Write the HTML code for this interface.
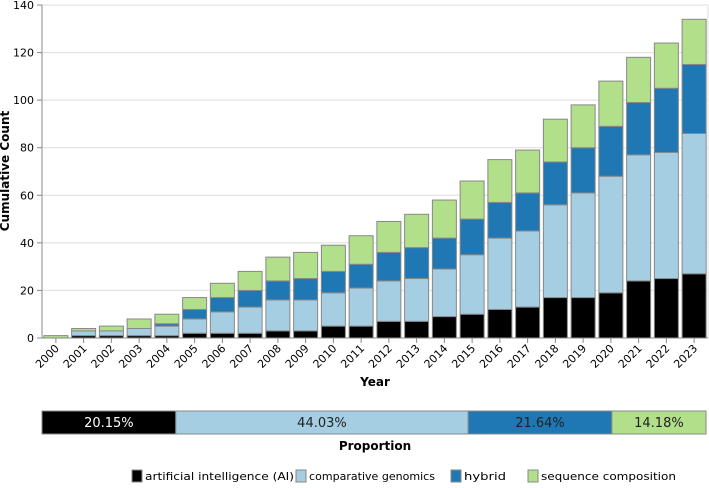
<!DOCTYPE html>
<html><head><meta charset="utf-8"><style>
body{margin:0;background:#fff;font-family:"DejaVu Sans","Liberation Sans",sans-serif;}
svg text{font-family:"DejaVu Sans","Liberation Sans",sans-serif;}
</style></head><body>
<svg id="c" width="709" height="484" xmlns="http://www.w3.org/2000/svg"></svg>
<script>
const years=["2000","2001","2002","2003","2004","2005","2006","2007","2008","2009","2010","2011","2012","2013","2014","2015","2016","2017","2018","2019","2020","2021","2022","2023"];
const aiVals=[0,1,1,1,1,2,2,2,3,3,5,5,7,7,9,10,12,13,17,17,19,24,25,27];
const compVals=[0,2,2,3,4,6,9,11,13,13,14,16,17,18,20,25,30,32,39,44,49,53,53,59];
const hybridVals=[0,0,0,0,1,4,6,7,8,9,9,10,12,13,13,15,15,16,18,19,21,22,27,29];
const seqVals=[1,1,2,4,4,5,6,8,10,11,11,12,13,14,16,16,18,18,18,18,19,19,19,19];
const yTicks=[0,20,40,60,80,100,120,140];
const propLabels=["20.15%","44.03%","21.64%","14.18%"];
const propVals=[20.15,44.03,21.64,14.18];
const seriesNames=["artificial intelligence (AI)","comparative genomics","hybrid","sequence composition"];
const colors=["#000000","#a6cee3","#1f78b4","#b2df8a"];
const svg=document.getElementById('c');
const NS="http://www.w3.org/2000/svg";
function mk(t,a,p){const e=document.createElementNS(NS,t);for(const k in a)e.setAttribute(k,a[k]);(p||svg).appendChild(e);return e;}
const x0=42,x1=708,y0=338,y1=5,yMax=140;
const step=(x1-x0)/years.length;
const xs=i=>x0+step*i+step/2;
const ys=v=>y0-(y0-y1)*v/yMax;
yTicks.forEach(t=>{
 const g=mk('line',{x1:x0,x2:x1,y1:ys(t),y2:ys(t),stroke:'#ddd','stroke-width':1});
 
 
 const tk=mk('line',{x1:x0-5,x2:x0,y1:ys(t),y2:ys(t),stroke:'#888'});
 
 
 const tx=mk('text',{x:x0-8,y:ys(t)+4,'text-anchor':'end','font-size':11,fill:'#000'});
 tx.textContent=t;
 
 
});
mk('line',{x1:x1,x2:x1,y1:y1,y2:y0,stroke:'#ddd'});
const series=[aiVals,compVals,hybridVals,seqVals];
years.forEach((yr,i)=>{
 let base=0;
 series.forEach((s,k)=>{
  const v=s[i]; if(v<=0)return;
  const r=mk('rect',{x:xs(i)-12,width:24,y:ys(base+v),height:ys(base)-ys(base+v),fill:colors[k],stroke:'#888','stroke-width':1});
  
  
  base+=v;
 });
 const tk=mk('line',{x1:xs(i),x2:xs(i),y1:y0,y2:y0+5,stroke:'#888'});
 
 
 const tx=mk('text',{x:xs(i)+4,y:y0+11,'text-anchor':'end','font-size':11,transform:`rotate(-45 ${xs(i)+4} ${y0+11})`});
 tx.textContent=yr;
 
 
});
mk('line',{x1:x0,x2:x0,y1:y1,y2:y0,stroke:'#888'});
mk('line',{x1:x0,x2:x1,y1:y0,y2:y0,stroke:'#888'});
const xt=mk('text',{x:375,y:386,'text-anchor':'middle','font-size':12,'font-weight':'bold'});
xt.textContent='Year';


const yt=mk('text',{x:9,y:171,'text-anchor':'middle','font-size':12,'font-weight':'bold',transform:'rotate(-90 9 171)'});
yt.textContent='Cumulative Count';


const px0=42,px1=706,py=411,ph=23;
const tot=propVals.reduce((a,b)=>a+b,0);
let acc=0;
propVals.forEach((v,k)=>{
 const xa=px0+(px1-px0)*acc/tot,w=(px1-px0)*v/tot;
 const r=mk('rect',{x:xa,y:py,width:w,height:ph,fill:colors[k],stroke:'#888'});
 
 
 const t=mk('text',{x:xa+w/2,y:py+16,'text-anchor':'middle','font-size':13,fill:k==0?'#fff':'#222'});
 t.textContent=propLabels[k];
 
 
 acc+=v;
});
const pt=mk('text',{x:375,y:450,'text-anchor':'middle','font-size':12,'font-weight':'bold'});
pt.textContent='Proportion';


const lx=[132,296,451,528];
const lw=[149,126,42,135];
seriesNames.forEach((n,k)=>{
 const r=mk('rect',{x:lx[k],y:470,width:10,height:12,fill:colors[k],stroke:'#888'});
 
 
 const t=mk('text',{x:lx[k]+13,y:480,'font-size':11,textLength:lw[k],lengthAdjust:'spacingAndGlyphs'});
 t.textContent=n;
 
 
});
</script>
</body></html>
